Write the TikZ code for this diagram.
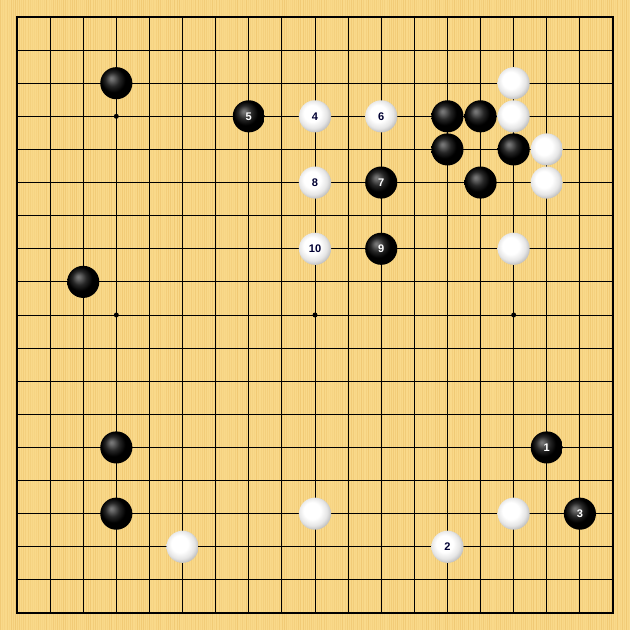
\documentclass[tikz,border=0pt]{standalone}
\usepackage{fontspec}
\setsansfont{Liberation Sans}
\definecolor{wood}{HTML}{F9D98A}
\definecolor{grain}{HTML}{E8B95E}
\pgfdeclareradialshading{wball}{\pgfpoint{-6bp}{6bp}}{color(0bp)=(white); color(13bp)=(white); color(22bp)=(black!10); color(33bp)=(black!38); color(50bp)=(black!38)}
\pgfdeclareradialshading{bball}{\pgfpoint{-8bp}{8bp}}{color(0bp)=(black!52); color(3bp)=(black!58); color(11bp)=(black!85); color(19bp)=(black); color(28bp)=(black); color(37bp)=(black!72); color(50bp)=(black!72)}
\tikzstyle{stone}=[circle, minimum size=0.97cm, inner sep=0pt, font=\sffamily\bfseries\fontsize{9.5}{11}\selectfont]
\tikzstyle{bstone}=[stone, shading=bball, text=white]
\tikzstyle{wstone}=[stone, shading=wball, text=black!80!blue]
\tikzstyle{hoshi}=[circle, minimum size=0.15cm, fill, inner sep=0pt]

\begin{document}
\begin{tikzpicture}
\useasboundingbox (-0.513,-0.513) rectangle (18.513,18.513);
\fill[wood] (-0.513,-0.513) rectangle (18.513,18.513);
% wood grain
\pgfmathsetseed{7}
\foreach \i in {0,...,300} {
  \pgfmathsetmacro\o{0.1+0.4*rnd}
  \draw[grain, opacity=\o, line width=0.35pt] (-0.5+\i*0.0634,-0.513) -- (-0.5+\i*0.0634,18.513);
}
% board
\foreach \i in {1,...,17} {
  \draw[line width=0.85pt] (\i,0) -- (\i,18);
  \draw[line width=0.85pt] (0,\i) -- (18,\i);
}
\draw[line width=1.7pt] (0,0) rectangle (18,18);
\foreach \x/\y [count=\k] in {3/15,3/9,9/9,15/9}
  \node[hoshi] (h\k) at (\x,\y) {};
% stones, rows counted from the top
\foreach \x/\r [count=\k] in {3/2,13/3,14/3,13/4,15/4,14/5,2/8,3/13,3/15}
  \node[bstone] (b\k) at (\x,18-\r) {};
\foreach \x/\r [count=\k] in {15/2,15/3,16/4,16/5,15/7,5/16,9/15,15/15}
  \node[wstone] (w\k) at (\x,18-\r) {};
% numbered moves
\node[bstone] (m1) at (16,5) {1};
\node[wstone] (m2) at (13,2) {2};
\node[bstone] (m3) at (17,3) {3};
\node[wstone] (m4) at (9,15) {4};
\node[bstone] (m5) at (7,15) {5};
\node[wstone] (m6) at (11,15) {6};
\node[bstone] (m7) at (11,13) {7};
\node[wstone] (m8) at (9,13) {8};
\node[bstone] (m9) at (11,11) {9};
\node[wstone] (m10) at (9,11) {10};
\end{tikzpicture}
\end{document}
